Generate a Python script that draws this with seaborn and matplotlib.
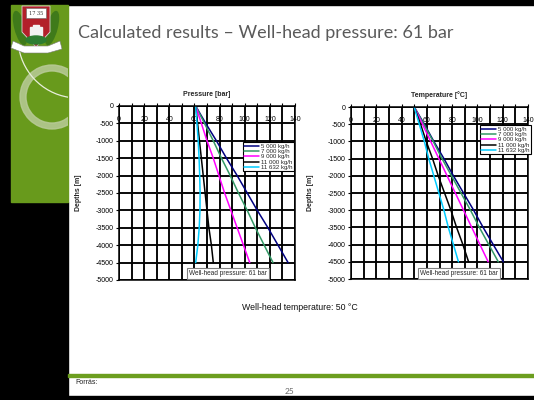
import matplotlib
matplotlib.use("Agg")
import matplotlib.pyplot as plt
import seaborn as sns
import pandas as pd
from matplotlib.patches import Rectangle, Polygon, Wedge, Arc, Ellipse
from matplotlib.ticker import MultipleLocator

# ---- data: depth profiles for each mass flow rate ----
depths = [0, -500, -1000, -1500, -2000, -2500, -3000, -3500, -4000, -4500]
flow_labels = ["5 000 kg/h", "7 000 kg/h", "9 000 kg/h", "11 000 kg/h", "11 632 kg/h"]
line_colors = ["#000080", "#339966", "#FF00FF", "#000000", "#00CCFF"]

pressure_5000 = [61, 69, 77.5, 85.5, 94, 102, 110, 118.5, 126.5, 134.5]
pressure_7000 = [61, 68, 75, 81.5, 88.5, 95, 102, 108.5, 115.5, 122.5]
pressure_9000 = [61, 65.5, 70, 75, 79.5, 84, 89, 94, 99, 104]
pressure_11000 = [61, 62.5, 64, 65.5, 67, 68.5, 70, 71.5, 73.5, 75]
pressure_11632 = [61, 62, 63, 63.7, 64.2, 64.5, 64.4, 63.8, 62.7, 61]

temperature_5000 = [50, 58, 65.5, 73.5, 81, 89, 97, 104.5, 112.5, 120.5]
temperature_7000 = [50, 57.5, 65, 72, 79.5, 87, 94.5, 101.5, 109, 116.5]
temperature_9000 = [50, 56.5, 63, 69.5, 76, 82.5, 89, 95.5, 102, 108.5]
temperature_11000 = [50, 55, 59.5, 64.5, 69, 74, 79, 83.5, 88.5, 93]
temperature_11632 = [50, 54, 58, 61.5, 65.5, 69.5, 73.5, 77, 81, 85]

pressure_series = [pressure_5000, pressure_7000, pressure_9000, pressure_11000, pressure_11632]
temperature_series = [temperature_5000, temperature_7000, temperature_9000,
                      temperature_11000, temperature_11632]


def long_table(series):
    rows = []
    for label, values in zip(flow_labels, series):
        for d, v in zip(depths, values):
            rows.append({"flow": label, "depth": d, "value": v})
    return pd.DataFrame(rows)


sns.set_style("white")
plt.rcParams["font.family"] = ["Liberation Sans", "DejaVu Sans"]
plt.rcParams["axes.unicode_minus"] = False

W, H = 534, 400
fig = plt.figure(figsize=(W / 100, H / 100), dpi=100)
fig.patch.set_facecolor("white")

# ---- slide background (pixel coordinates, y downwards) ----
bg = fig.add_axes([0, 0, 1, 1], zorder=0)
bg.set_xlim(0, W)
bg.set_ylim(H, 0)
bg.axis("off")

bg.add_patch(Rectangle((0, 0), W, 5, color="black"))
bg.add_patch(Rectangle((0, 0), 11, H, color="black"))
bg.add_patch(Rectangle((0, 202), 68, H - 202, color="black"))
bg.add_patch(Rectangle((0, 396), W, 4, color="black"))
side = Rectangle((11, 5), 57, 197, color="#689a1c")
bg.add_patch(side)

ring = Wedge((52, 97), 32, 0, 360, width=6, color="#b9cb98", alpha=0.85)
bg.add_patch(ring)
ring.set_clip_path(side)
swoosh = Arc((78, 38), 120, 120, theta1=99, theta2=175, color="#e8eedc", lw=0.9)
bg.add_patch(swoosh)
swoosh.set_clip_path(side)

# crest
bg.add_patch(Ellipse((20, 28), 10, 34, angle=-15, color="#3f7a1a"))
bg.add_patch(Ellipse((52, 28), 10, 34, angle=15, color="#3f7a1a"))
bg.add_patch(Polygon([(22, 6), (50, 6), (50, 32), (36, 47), (22, 32)],
                     closed=True, fc="#b3202a", ec="#d8d8d8", lw=0.6))
bg.add_patch(Rectangle((26, 8), 20, 10, fc="white", ec="#666666", lw=0.4))
bg.text(36, 13.2, "17 35", fontsize=3.6, family="DejaVu Serif", ha="center", va="center",
        color="#333333")
bg.add_patch(Polygon([(30, 36), (30, 27), (33, 27), (33, 25), (39, 25), (39, 27), (42, 27),
                      (42, 36)], closed=True, color="#f2f2f2"))
bg.add_patch(Ellipse((36, 40), 20, 8, color="#2e7d32"))
bg.add_patch(Polygon([(13, 41), (24, 46), (48, 46), (60, 41), (62, 49), (48, 53), (24, 53),
                      (11, 48)], closed=True, fc="white", ec="#7a7a7a", lw=0.4))

bg.add_patch(Rectangle((68, 374), W - 68, 2.5, color="#6c9e1f"))

bg.text(78, 33, "Calculated results \u2013 Well-head pressure: 61 bar", fontsize=13,
        family=["Lato", "DejaVu Sans"], color="#5a5a5a", ha="left", va="center")
bg.text(300, 307, "Well-head temperature: 50 \u00b0C", fontsize=6.3, ha="center",
        va="center", color="#111111")
bg.text(75, 382, "Forr\u00e1s:", fontsize=5, ha="left", va="center", color="#222222")
bg.text(290, 392, "25", fontsize=6, family=["Lato", "DejaVu Sans"], ha="center",
        va="center", color="#666666")


def axes_px(left, right, top, bottom):
    return fig.add_axes([left / W, 1 - bottom / H, (right - left) / W, (bottom - top) / H],
                        zorder=2)


def draw_panel(ax, series, title, legend_corner, box_xy):
    df = long_table(series)
    sns.lineplot(data=df, x="value", y="depth", hue="flow", hue_order=flow_labels,
                 palette=line_colors, sort=False, estimator=None, lw=1.1,
                 legend=False, ax=ax)
    ax.set_xlim(0, 140)
    ax.set_ylim(-5000, 0)
    ax.xaxis.set_major_locator(MultipleLocator(20))
    ax.xaxis.set_minor_locator(MultipleLocator(10))
    ax.yaxis.set_major_locator(MultipleLocator(500))
    ax.set_axisbelow(True)
    ax.grid(True, which="both", axis="x", color="black", lw=1.35)
    ax.grid(True, which="major", axis="y", color="black", lw=1.35)
    ax.tick_params(axis="x", which="both", top=True, bottom=False, labeltop=True,
                   labelbottom=False, direction="out", length=2.5, width=0.8,
                   pad=-14.5, labelsize=5, colors="black")
    ax.tick_params(axis="y", left=True, direction="out", length=2.5, width=0.8,
                   labelsize=5, pad=1.5, colors="black")
    for s in ax.spines.values():
        s.set_color("black")
        s.set_linewidth(1.1)
    ax.set_xlabel("")
    ax.set_ylabel("Depths [m]", fontsize=5, fontweight="bold", labelpad=10)
    ax.set_title(title, fontsize=5, fontweight="bold", y=1.0, pad=7.5)
    leg = ax.legend(handles=ax.lines[:5], labels=flow_labels, loc="upper right",
                    bbox_to_anchor=(legend_corner[0] / W, 1 - legend_corner[1] / H),
                    bbox_transform=fig.transFigure, fontsize=4.4, frameon=True,
                    fancybox=False, edgecolor="black", framealpha=1, borderpad=0.25,
                    labelspacing=0.0, handlelength=2.4, handletextpad=0.3,
                    borderaxespad=0)
    leg.get_frame().set_linewidth(0.8)
    leg.set_zorder(5)
    ax.text(box_xy[0], box_xy[1], "Well-head pressure: 61 bar", transform=ax.transAxes,
            fontsize=4.7, ha="center", va="center", zorder=6,
            bbox=dict(boxstyle="square,pad=0.35", fc="white", ec="#808080", lw=0.8))


ax_p = axes_px(119, 295, 106, 280)
draw_panel(ax_p, pressure_series, "Pressure [bar]", (294, 142), (0.619, 0.037))

ax_t = axes_px(351, 528, 107, 279)
draw_panel(ax_t, temperature_series, "Temperature [\u00b0C]", (531, 125), (0.61, 0.032))

fig.savefig("out.png", dpi=100, facecolor="white")
